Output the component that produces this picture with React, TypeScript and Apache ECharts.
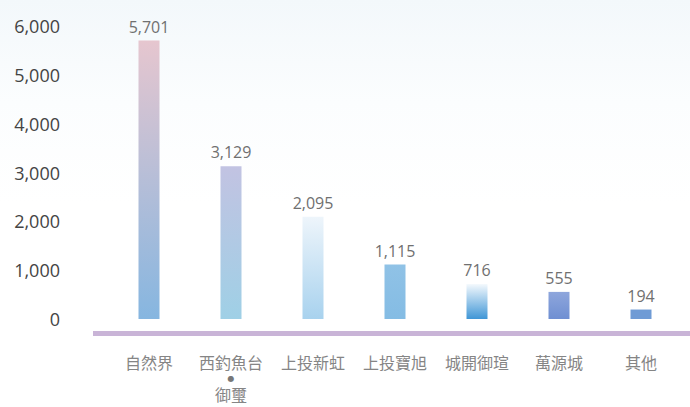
import React, { useEffect, useRef } from "react";
import * as echarts from "echarts";

const categories = ["自然界", "西釣魚台\n{dot|●}\n御璽", "上投新虹", "上投寶旭", "城開御瑄", "萬源城", "其他"];
const values = [5701, 3129, 2095, 1115, 716, 555, 194];
const yTicks = [0, 1000, 2000, 3000, 4000, 5000, 6000];
const barTop = ["#e6c6cf", "#c2c3e2", "#eef5fb", "#90c2e6", "#f4f9fd", "#8ea6dc", "#6f9bd5"];
const barBottom = ["#86b6e0", "#9fd0e6", "#a8d2ee", "#84bce4", "#3f96d6", "#6f8fd2", "#6f9bd5"];

export default function App() {
  const ref = useRef<HTMLDivElement>(null);
  useEffect(() => {
    if (!ref.current) return;
    const chart = echarts.init(ref.current, null, { renderer: "svg" });
    const fmt = (v: number) => v.toLocaleString("en-US");
    chart.setOption({
      animation: false,
      backgroundColor: new echarts.graphic.LinearGradient(0, 0, 0, 1, [
        { offset: 0, color: "#f3f8fb" },
        { offset: 0.25, color: "#fbfdfe" },
        { offset: 0.5, color: "#ffffff" },
        { offset: 1, color: "#ffffff" },
      ]),
      grid: {
        left: 108,
        right: 8,
        top: 26,
        bottom: 88,
        containLabel: false,
        outerBoundsMode: "none",
      },
      xAxis: {
        type: "category",
        data: categories,
        axisLine: { show: false },
        axisTick: { show: false },
        axisLabel: {
          margin: 35,
          color: "#858585",
          fontSize: 16,
          lineHeight: 16,
          fontFamily: "Noto Sans CJK TC",
          interval: 0,
          rich: {
            dot: {
              fontSize: 8,
              lineHeight: 16,
              color: "#777777",
              fontFamily: "DejaVu Sans",
            },
          },
        },
      },
      yAxis: {
        type: "value",
        min: yTicks[0],
        max: yTicks[yTicks.length - 1],
        interval: 1000,
        splitLine: { show: false },
        axisLine: { show: false },
        axisTick: { show: false },
        axisLabel: {
          margin: 48,
          color: "#444444",
          fontSize: 18,
          fontFamily: "Open Sans",
          formatter: (v: number) => fmt(v),
        },
      },
      graphic: [
        {
          type: "rect",
          shape: { x: 93, y: 331, width: 597, height: 5 },
          style: { fill: "#c9b4d7" },
        },
      ],
      series: [
        {
          type: "bar",
          barWidth: 21,
          data: values.map((v, i) => ({
            value: v,
            itemStyle: {
              color: new echarts.graphic.LinearGradient(0, 0, 0, 1, [
                { offset: 0, color: barTop[i] },
                { offset: 1, color: barBottom[i] },
              ]),
            },
          })),
          label: {
            show: true,
            position: "top",
            distance: 6,
            color: "#707070",
            fontSize: 16,
            fontFamily: "Open Sans",
            formatter: (p: any) => fmt(p.value),
          },
        },
      ],
    });
    return () => chart.dispose();
  }, []);
  return (
    <div
      ref={ref}
      style={{ position: "fixed", left: 0, top: 0, width: 690, height: 407 }}
    />
  );
}
